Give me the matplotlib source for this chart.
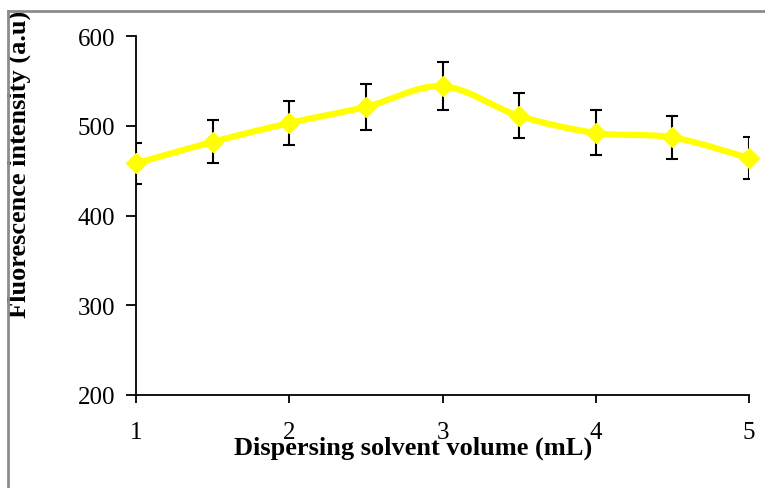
"""
Fluorescence intensity vs dispersing solvent volume (smoothed line, error bars)
"""
import matplotlib
matplotlib.use("Agg")
import numpy as np
import matplotlib.pyplot as plt
from matplotlib.path import Path
from matplotlib.patches import PathPatch
from matplotlib.lines import Line2D

volume = [1, 1.5, 2, 2.5, 3, 3.5, 4, 4.5, 5]
intensity = [458, 482, 503, 521, 544, 511, 492, 487, 464]
err = [23, 24, 25, 26, 27, 25, 25, 24, 23]
xticks = [1, 2, 3, 4, 5]
yticks = [200, 300, 400, 500, 600]

plt.rcParams['font.family'] = ['Liberation Serif', 'DejaVu Serif']

fig = plt.figure(figsize=(7.65, 4.89), dpi=100)
ax = fig.add_axes([136/765, 1-396/489, (749-136)/765, (396-37)/489])

# gray frame (left + top only visible)
fig.add_artist(Line2D([8/765, 8/765], [0, 1-12/489], color='#8c8c8c', lw=2))
fig.add_artist(Line2D([8/765, 1], [1-12/489, 1-12/489], color='#8c8c8c', lw=2))


def smooth_path(xs, ys):
    # bezier segments like the spreadsheet "smoothed line"
    pts = np.column_stack([xs, ys]).astype(float)
    n = len(pts)
    verts = [pts[0]]
    codes = [Path.MOVETO]
    for i in range(n - 1):
        p0 = pts[max(i - 1, 0)]
        p1 = pts[i]
        p2 = pts[i + 1]
        p3 = pts[min(i + 2, n - 1)]
        c1 = p1 + (p2 - p0) / 6
        c2 = p2 - (p3 - p1) / 6
        verts += [c1, c2, p2]
        codes += [Path.CURVE4] * 3
    return Path(verts, codes)


ax.errorbar(volume, intensity, yerr=err, fmt='none', ecolor='black',
            elinewidth=1.5, capsize=4.5, capthick=1.5, zorder=2)
ax.add_patch(PathPatch(smooth_path(volume, intensity), fill=False,
                       edgecolor='#ffff00', lw=4.5, zorder=3, clip_on=False,
                       capstyle='round'))
ax.plot(volume, intensity, ls='none', marker='D', ms=10.5, color='#ffff00',
        zorder=4, clip_on=False)

ax.set_xlim(1, 5)
ax.set_ylim(200, 600)
ax.set_xticks(xticks)
ax.set_yticks(yticks)
ax.spines['top'].set_visible(False)
ax.spines['right'].set_visible(False)
for s in ['left', 'bottom']:
    ax.spines[s].set_linewidth(1.3)
ax.tick_params(axis='y', direction='out', length=7, width=1.3, labelsize=18, pad=8)
ax.tick_params(axis='x', direction='out', length=6, width=1.3, labelsize=18, pad=13)

ax.set_xlabel('Dispersing solvent volume (mL)', fontsize=19, fontweight='bold',
              va='center')
ax.xaxis.set_label_coords((413-136)/613, (396-448)/359)
ax.set_ylabel('Fluorescence intensity (a.u)', fontsize=19, fontweight='bold',
              va='center')
ax.yaxis.set_label_coords((19-136)/613, (396-164)/359)

fig.savefig('out.png', dpi=100)
